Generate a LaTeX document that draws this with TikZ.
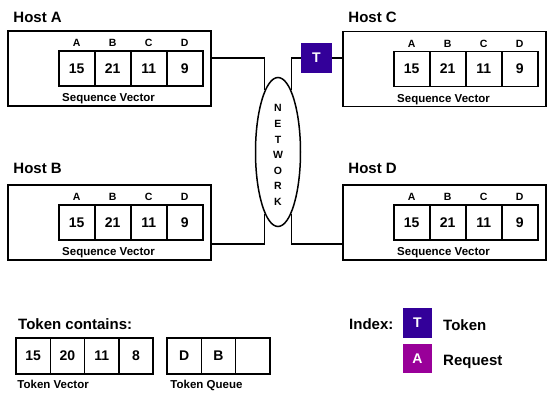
\documentclass[tikz,border=0pt]{standalone}
\usepackage{fontspec}
\setmainfont{Liberation Sans}
\usetikzlibrary{calc,shapes.geometric}

\definecolor{tokenpurple}{RGB}{51,0,153}
\definecolor{requestpurple}{RGB}{153,0,153}

\tikzset{
  host/.style={draw, line width=1.5pt, minimum width=203pt, minimum height=75pt, inner sep=0pt},
  cell/.style={draw, line width=1.5pt, minimum width=36pt, minimum height=35pt, inner sep=0pt,
    font=\fontsize{14}{14}\selectfont\bfseries},
  tcell/.style={cell, minimum width=34.3pt, minimum height=36pt},
  big/.style={anchor=base west, inner sep=0pt, font=\fontsize{15}{15}\selectfont\bfseries},
  small/.style={inner sep=0pt, font=\fontsize{11.5}{11.5}\selectfont\bfseries},
  letter/.style={anchor=base, inner sep=0pt, font=\fontsize{10.5}{10.5}\selectfont\bfseries},
  wire/.style={line width=1.2pt},
  tokbox/.style={fill=#1, text=white, minimum width=30pt, minimum height=30pt, inner sep=0pt,
    font=\fontsize{14}{14}\selectfont\bfseries},
}

\begin{document}
\begin{tikzpicture}[x=1pt, y=-1pt]
  \useasboundingbox (0,0) rectangle (550,400);
  % hosts with their sequence vectors
  \foreach \h/\x/\y/\d in {A/109.5/68.5/8, B/109.5/222.5/11, C/444.5/69/8, D/444.5/222.5/11} {
    \node[host] (h\h) at (\x,\y) {};
    \node[big] (l\h) at ($(h\h.north west)+(6,-\d)$) {Host \h};
    \foreach \l/\v [count=\i] in {A/15, B/21, C/11, D/9} {
      \node[cell] (c\h\i) at ($(h\h.west)+({51.5+36*\i-18},0)$) {\v};
      \node[letter] at ($(c\h\i.north)+(0,-3.5)$) {\l};
    }
    \node[small, anchor=base west] (s\h) at ($(c\h1.south west)+(4,15)$) {Sequence Vector};
  }
  % network
  \node[draw, ellipse, line width=1.5pt, minimum width=45pt, minimum height=149pt, inner sep=0pt]
    (net) at (278,152) {};
  \node[align=center, font=\fontsize{10.5}{15.6}\selectfont\bfseries] (nettext) at (278,155)
    {N\\E\\T\\W\\O\\R\\K};
  % token on its way to host C
  \node[tokbox=tokenpurple, minimum width=31pt] (tokC) at (316.5,58) {T};
  % links
  \coordinate (bA) at (net.102 |- 0,58);
  \draw[wire] (net.102) -- (bA) -- (bA -| hA.east);
  \coordinate (bB) at (net.-102 |- 0,244);
  \draw[wire] (net.-102) -- (bB) -- (bB -| hB.east);
  \coordinate (bC) at (net.78 |- tokC.west);
  \draw[wire] (net.78) -- (bC) -- (tokC.west);
  \draw[wire] (tokC.east) -- (tokC.east -| hC.west);
  \coordinate (bD) at (net.-78 |- 0,244);
  \draw[wire] (net.-78) -- (bD) -- (bD -| hD.west);
  % token contents
  \node[big] (tc) at (18,329) {Token contains:};
  \foreach \v [count=\i] in {15, 20, 11, 8}
    \node[tcell] (tv\i) at ({16+34.3*\i-17.15},356) {\v};
  \node[small, anchor=base west] (tvl) at ($(tv1.south west)+(2,13.5)$) {Token Vector};
  \foreach \v [count=\i] in {D, B, {}}
    \node[tcell] (tq\i) at ({167+34.3*\i-17.15},356) {\v};
  \node[small, anchor=base west] (tql) at ($(tq1.south west)+(4,13.5)$) {Token Queue};
  % index
  \node[big] (idx) at (349,329) {Index:};
  \node[tokbox=tokenpurple, minimum width=29pt] (kT) at (417.5,323) {T};
  \node[tokbox=requestpurple, minimum width=29pt, minimum height=29pt] (kA) at (417.5,358.5) {A};
  \node[big] (kTl) at (443,330) {Token};
  \node[big] (kAl) at (443,365) {Request};
\end{tikzpicture}
\end{document}
